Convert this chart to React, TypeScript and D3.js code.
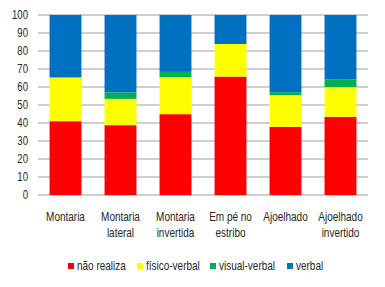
import React from "react";
import * as d3 from "d3";

const categories = [
  ["Montaria"],
  ["Montaria", "lateral"],
  ["Montaria", "invertida"],
  ["Em pé no", "estribo"],
  ["Ajoelhado"],
  ["Ajoelhado", "invertido"],
];
const naoRealiza = [41.0, 38.8, 44.9, 65.8, 37.9, 43.4];
const fisicoVerbal = [24.3, 14.6, 20.5, 18.1, 17.6, 16.5];
const visualVerbal = [0, 3.6, 3.0, 0, 1.6, 4.4];
const verbal = [34.7, 43.0, 31.6, 16.1, 42.9, 35.7];
const seriesNames = ["não realiza", "físico-verbal", "visual-verbal", "verbal"];
const seriesColors = ["#FF0000", "#FFFF00", "#00B050", "#0070C0"];
const yTicks = [0, 10, 20, 30, 40, 50, 60, 70, 80, 90, 100];

const W = 385;
const H = 287;
const left = 38;
const right = 368;
const top = 15;
const bottom = 195;
const font = "'Liberation Sans', Arial, sans-serif";
const SX = 0.8;

function NText({ x, y, anchor, size, children }: any) {
  return (
    <g transform={`translate(${x},${y}) scale(${SX},1)`}>
      <text x={0} y={0} dy="0.35em" textAnchor={anchor} fontSize={size} fontFamily={font} fill="#262626">
        {children}
      </text>
    </g>
  );
}

export default function App() {
  const keys = categories.map((_, i) => String(i));
  const x = d3.scaleBand().domain(keys).range([left, right]).paddingInner(0.42).paddingOuter(0.21);
  const y = d3.scaleLinear().domain([0, 100]).range([bottom, top]);
  const rows = keys.map((k, i) => ({
    key: k,
    s0: naoRealiza[i],
    s1: fisicoVerbal[i],
    s2: visualVerbal[i],
    s3: verbal[i],
  }));
  const stack = d3.stack<any>().keys(["s0", "s1", "s2", "s3"]);
  const layers = stack(rows);
  const legendX = [68, 137, 210, 287];
  return (
    <svg width={W} height={H} style={{ position: "absolute", left: 0, top: 0 }}>
      <rect width={W} height={H} fill="#fff" />
      {yTicks.map((t) => (
        <g key={t}>
          <line x1={left} x2={right} y1={y(t)} y2={y(t)} stroke="#bfbfbf" strokeWidth={1.3} />
          <NText x={28} y={y(t)} anchor="end" size={12}>
            {t}
          </NText>
        </g>
      ))}
      {layers.map((layer, li) =>
        layer.map((d, i) =>
          d[1] - d[0] > 0 ? (
            <rect
              key={li + "-" + i}
              x={x(keys[i])}
              width={x.bandwidth()}
              y={y(d[1])}
              height={y(d[0]) - y(d[1])}
              fill={seriesColors[li]}
            />
          ) : null
        )
      )}
      {categories.map((lines, i) =>
        lines.map((l, j) => (
          <NText
            key={i + "-" + j}
            x={(x(keys[i]) as number) + x.bandwidth() / 2}
            y={217 + j * 16}
            anchor="middle"
            size={12.5}
          >
            {l}
          </NText>
        ))
      )}
      {seriesNames.map((n, i) => (
        <g key={n}>
          <rect x={legendX[i]} y={263} width={6} height={6} fill={seriesColors[i]} />
          <NText x={legendX[i] + 9} y={266} anchor="start" size={12.5}>
            {n}
          </NText>
        </g>
      ))}
    </svg>
  );
}
